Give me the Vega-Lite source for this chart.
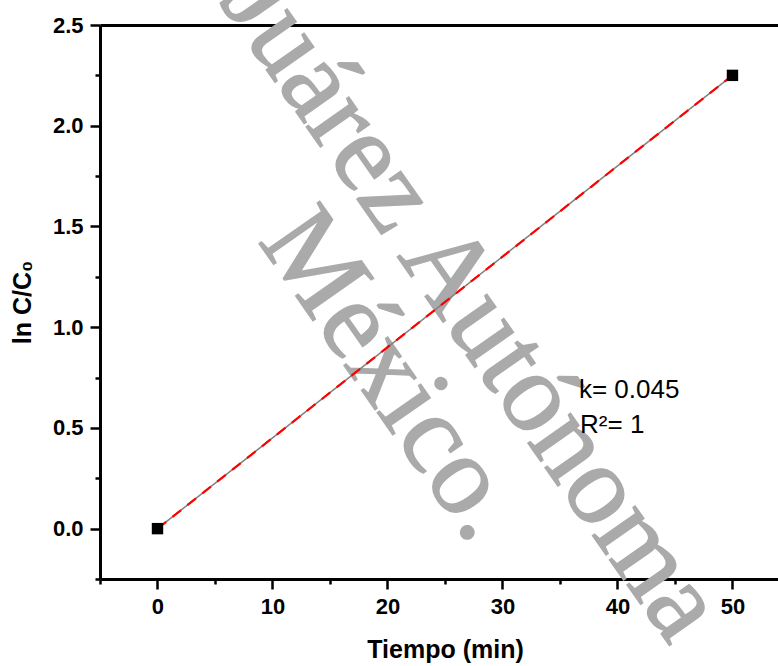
{
  "$schema": "https://vega.github.io/schema/vega-lite/v6.json",
  "autosize": "none",
  "width": 678,
  "height": 554,
  "padding": {"left": 100, "top": 25, "right": 0, "bottom": 87},
  "background": "white",
  "config": {
    "view": {"stroke": null},
    "font": "Liberation Sans",
    "axis": {"grid": false, "labelColor": "black", "titleColor": "black", "tickColor": "black", "domainColor": "black"}
  },
  "data": {"values": [{"tiempo": 0, "lnC": 0}, {"tiempo": 50, "lnC": 2.25}]},
  "resolve": {"axis": {"x": "independent", "y": "independent"}},
  "layer": [
    {
      "data": {"values": [
        {"x": 27.38, "y": 1.112, "texto": "Juárez Autónoma"},
        {"x": 20.4, "y": 0.765, "texto": "México."}
      ]},
      "mark": {"type": "text", "font": "Liberation Serif", "fontSize": 113, "angle": 55, "align": "center", "baseline": "middle", "color": "#aaaaaa", "fill": "#aaaaaa", "fillOpacity": 1, "stroke": "#aaaaaa", "strokeWidth": 1.5},
      "encoding": {
        "x": {"field": "x", "type": "quantitative", "axis": null, "scale": {"domain": [-5, 53.96], "nice": false, "zero": false}},
        "y": {"field": "y", "type": "quantitative", "axis": null, "scale": {"domain": [-0.25, 2.5], "nice": false, "zero": false}},
        "text": {"field": "texto"}
      }
    },
    {
      "mark": {"type": "line", "color": "#808080", "strokeWidth": 1.5},
      "encoding": {
        "x": {"field": "tiempo", "type": "quantitative", "title": "Tiempo (min)",
          "axis": {"orient": "bottom", "values": [0, 10, 20, 30, 40, 50], "format": "d", "domainWidth": 3, "tickWidth": 2.5, "tickSize": 10, "labelFontSize": 22, "labelFontWeight": "bold", "labelPadding": 7, "titleFontSize": 25, "titleFontWeight": "bold", "titlePadding": 20, "titleX": 345, "labelFlush": false}},
        "y": {"field": "lnC", "type": "quantitative", "title": "ln C/C₀",
          "axis": {"orient": "left", "values": [0, 0.5, 1, 1.5, 2, 2.5], "format": ".1f", "domainWidth": 3, "tickWidth": 2.5, "tickSize": 10, "labelFontSize": 22, "labelFontWeight": "bold", "labelPadding": 7, "titleFontSize": 25, "titleFontWeight": "bold", "titlePadding": 17, "labelFlush": false}}
      }
    },
    {
      "mark": {"type": "line", "color": "#ff0000", "strokeWidth": 2.2, "strokeDash": [11, 8]},
      "encoding": {
        "x": {"field": "tiempo", "type": "quantitative",
          "axis": {"orient": "bottom", "values": [-5, 5, 15, 25, 35, 45], "labels": false, "domain": false, "tickWidth": 2.5, "tickSize": 5, "title": null}},
        "y": {"field": "lnC", "type": "quantitative",
          "axis": {"orient": "left", "values": [-0.25, 0.25, 0.75, 1.25, 1.75, 2.25], "labels": false, "domain": false, "tickWidth": 2.5, "tickSize": 5, "title": null}}
      }
    },
    {
      "mark": {"type": "square", "filled": true, "color": "black", "size": 130, "opacity": 1},
      "encoding": {
        "x": {"field": "tiempo", "type": "quantitative",
          "axis": {"orient": "top", "values": [], "labels": false, "ticks": false, "domain": true, "domainWidth": 3, "title": null}},
        "y": {"field": "lnC", "type": "quantitative", "axis": null}
      }
    },
    {
      "data": {"values": [
        {"x": 36.65, "y": 0.650, "etiqueta": "k= 0.045"},
        {"x": 36.75, "y": 0.476, "etiqueta": "R²= 1"}
      ]},
      "mark": {"type": "text", "align": "left", "baseline": "alphabetic", "fontSize": 26, "font": "Liberation Sans", "color": "black"},
      "encoding": {
        "x": {"field": "x", "type": "quantitative", "axis": null},
        "y": {"field": "y", "type": "quantitative", "axis": null},
        "text": {"field": "etiqueta"}
      }
    }
  ]
}
